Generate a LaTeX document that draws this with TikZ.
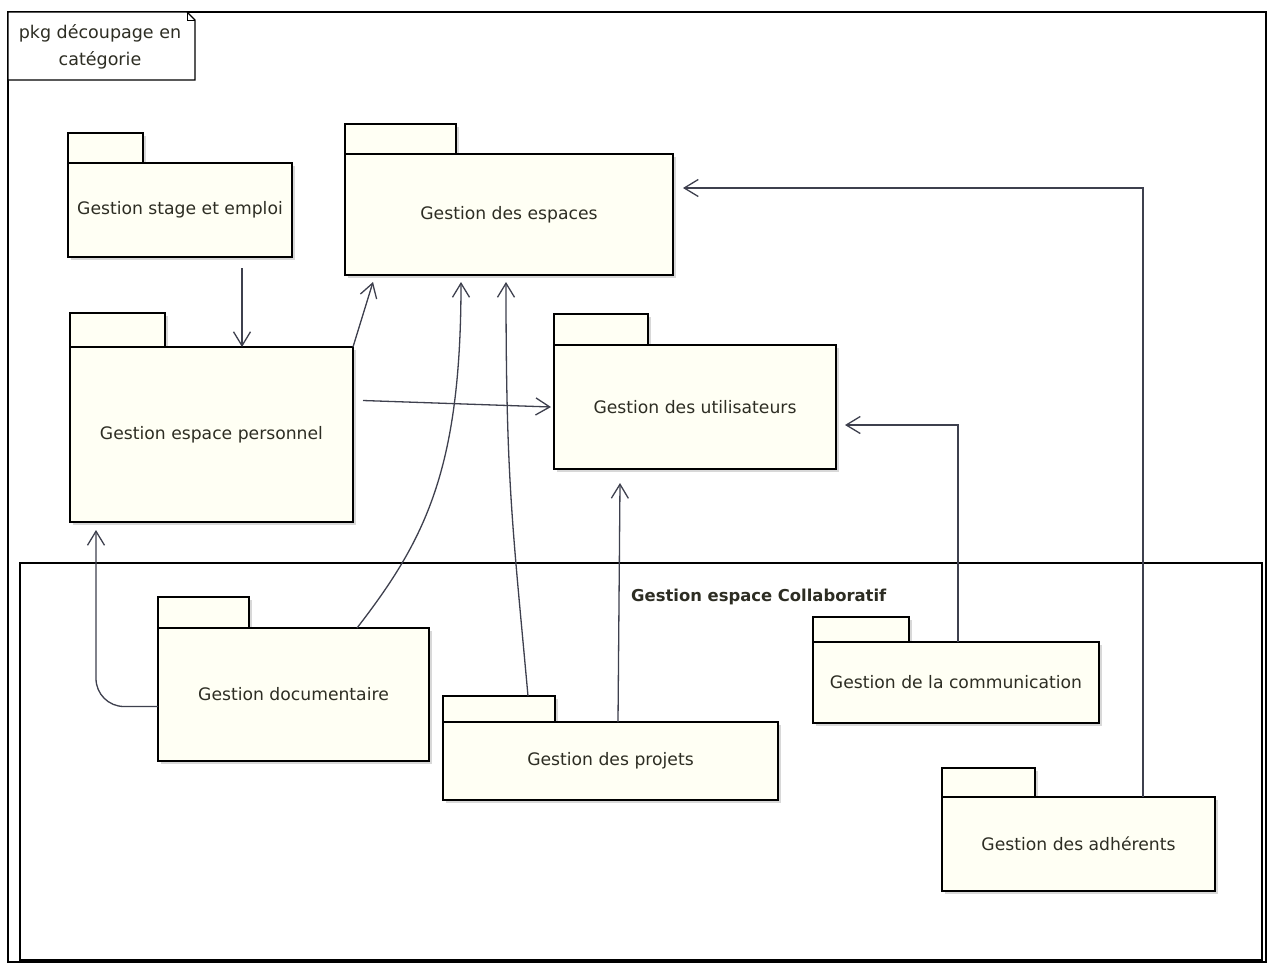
\documentclass[tikz,border=0pt]{standalone}
\usepackage{fontspec}
\setmainfont{DejaVu Sans}
\usetikzlibrary{arrows.meta,shadows,calc}
\pgfdeclarelayer{background}
\pgfsetlayers{background,main}
\definecolor{pkgfill}{RGB}{255,255,244}
\definecolor{linec}{RGB}{62,64,78}
\definecolor{txtc}{RGB}{45,45,35}
\tikzset{
  pkgbody/.style={draw=black, line width=1.5pt, fill=pkgfill, inner sep=0pt, outer sep=0pt,
    font=\fontsize{17.2}{20}\selectfont, text=txtc,
    drop shadow={shadow xshift=3pt, shadow yshift=-3pt, fill=gray!60, opacity=0.5}},
  pkgtab/.style={draw=black, line width=1.5pt, fill=pkgfill,
    drop shadow={shadow xshift=3pt, shadow yshift=-3pt, fill=gray!60, opacity=0.5}},
  dep/.style={draw=linec, line width=1.3pt, -{Straight Barb[length=14pt,width=17pt]}},
  frame/.style={draw=black, line width=1.4pt},
  lbl/.style={font=\fontsize{17.5}{27}\selectfont, text=txtc, inner sep=0pt},
}
\newcommand\pkgbox[8]{%
  \node[pkgbody, minimum width={#6-#2}, minimum height={#7-#5}] (#1) at ({(#2+#6)/2},{(#5+#7)/2}) {#8};
  \begin{pgfonlayer}{background}
    \draw[pkgtab] (#2,#3) rectangle (#4,#5);
  \end{pgfonlayer}}
\begin{document}
\begin{tikzpicture}[x=1pt,y=-1pt]
\useasboundingbox (0,0) rectangle (1272,964);
\begin{pgfonlayer}{background}
  \fill[white] (0,0) rectangle (1272,964);
  \draw[frame] (8,12) rectangle (1266,962);
  \draw[frame] (20,563) rectangle (1262,960);
  \fill[white] (8,12) -- (187,12) -- (195,20) -- (195,80) -- (8,80) -- cycle;
  \draw[frame] (8,12) -- (187,12) -- (195,20) -- (195,80) -- (8,80) -- cycle;
  \draw[black, line width=1pt] (187,12) -- (187,20) -- (195,20);
\end{pgfonlayer}
\node[lbl, align=center] (pkglabel) at (100,47) {pkg découpage en\\catégorie};
\node[lbl, font=\bfseries\fontsize{16.4}{19}\selectfont, anchor=west] (collabtitle) at (631,597) {Gestion espace Collaboratif};

\pkgbox{stage}{68}{133}{143}{163}{292}{257}{Gestion stage et emploi}
\pkgbox{personnel}{70}{313}{165}{347}{353}{522}{Gestion espace personnel}
\pkgbox{espaces}{345}{124}{456}{154}{673}{275}{Gestion des espaces}
\pkgbox{util}{554}{314}{648}{345}{836}{469}{Gestion des utilisateurs}
\pkgbox{doc}{158}{597}{249}{628}{429}{761}{Gestion documentaire}
\pkgbox{proj}{443}{696}{555}{722}{778}{800}{Gestion des projets}
\pkgbox{comm}{813}{617}{909}{642}{1099}{723}{Gestion de la communication}
\pkgbox{adh}{942}{768}{1035}{797}{1215}{891}{Gestion des adhérents}

\draw[dep] ([xshift=62pt,yshift=-11pt]stage.south) coordinate (s1) -- (s1 |- personnel.north);
\draw[dep] (personnel.north east) -- ([xshift=28pt,yshift=-7pt]espaces.south west);
\draw[dep] ([xshift=10pt,yshift=34pt]personnel.east) -- ([xshift=-3pt]util.west);
\draw[dep, rounded corners=28pt] ([yshift=-12pt]doc.west) -| ([xshift=26pt,yshift=-8pt]personnel.south west);
\draw[dep] ([xshift=63.5pt]doc.north) .. controls (425,540) and (461,470) .. ([xshift=-48pt,yshift=-7pt]espaces.south);
\draw[dep] ([xshift=-82.5pt,yshift=26pt]proj.north) .. controls (512,520) and (506,480) .. ([xshift=-3pt,yshift=-7pt]espaces.south);
\draw[dep] ([xshift=7.5pt]proj.north) -- ([xshift=-75pt,yshift=-14pt]util.south);
\draw[dep] ([xshift=2pt]comm.north) |- ([xshift=9pt,yshift=-18pt]util.east);
\draw[dep] ([xshift=64.5pt]adh.north) |- ([xshift=10pt,yshift=26.5pt]espaces.east);
\end{tikzpicture}
\end{document}
